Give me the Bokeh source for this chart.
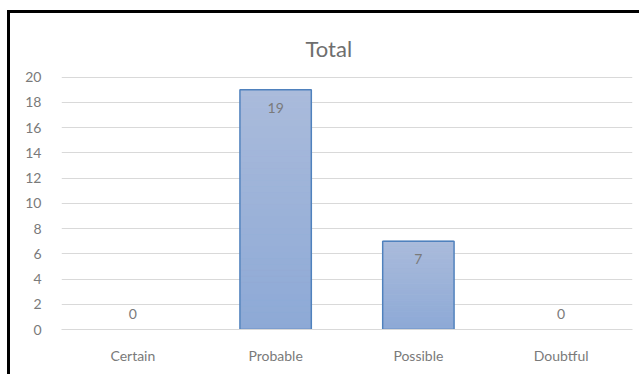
from bokeh.plotting import figure
from bokeh.models import ColumnDataSource, FactorRange, Range1d, FixedTicker
from bokeh.embed import file_html
from bokeh.resources import INLINE

categories = ["Certain", "Probable", "Possible", "Doubtful"]
values = [0, 19, 7, 0]
y_ticks = [0, 2, 4, 6, 8, 10, 12, 14, 16, 18, 20]
title_text = "Total"

FONT = "Lato"
GREY = "#7a7a7a"

p = figure(
    x_range=FactorRange(*categories),
    y_range=Range1d(0, 20.05),
    width=632, height=364,
    output_backend="svg", toolbar_location=None,
    min_border_left=51, min_border_right=10,
    min_border_top=63, min_border_bottom=48,
    margin=(10, 0, 0, 7),
    title=title_text,
)
p.styles = {"border-left": "3px solid black", "border-top": "3px solid black"}

p.title.align = "left"
p.title.text_font = FONT
p.title.text_font_size = "22px"
p.title.text_font_style = "normal"
p.title.text_color = "#6e6e6e"
p.title.offset = 244
p.title.standoff = 30

p.outline_line_color = None
p.background_fill_color = "white"
p.border_fill_color = "white"

# gradient bars built from stacked slices of each value
N = 40
top_rgb = (170, 187, 219)
bot_rgb = (141, 169, 214)
xs, bottoms, tops, colors = [], [], [], []
for c, v in zip(categories, values):
    if v <= 0:
        continue
    for i in range(N):
        f0 = i / N
        f1 = (i + 1) / N
        t = (f0 + f1) / 2
        r = round(bot_rgb[0] + (top_rgb[0] - bot_rgb[0]) * t)
        g = round(bot_rgb[1] + (top_rgb[1] - bot_rgb[1]) * t)
        b = round(bot_rgb[2] + (top_rgb[2] - bot_rgb[2]) * t)
        xs.append(c)
        bottoms.append(v * f0)
        tops.append(v * f1)
        colors.append("#%02x%02x%02x" % (r, g, b))

p.vbar(x=xs, bottom=bottoms, top=tops, width=0.49, fill_color=colors,
       line_color=colors, line_width=1)

src = ColumnDataSource(dict(
    x=categories, top=values,
    label=[str(v) for v in values],
    yoff=[18 if v > 0 else -16 for v in values],
    lc=[("#4f81bd" if v > 0 else None) for v in values],
))
p.vbar(x="x", top="top", width=0.5, source=src, fill_alpha=0,
       line_color="lc", line_width=1.5)

p.text(x="x", y="top", text="label", y_offset="yoff", source=src,
       text_align="center", text_baseline="middle",
       text_font={"value": FONT}, text_font_size="14px", text_color=GREY)

p.xgrid.grid_line_color = None
p.ygrid.grid_line_color = "#d9d9d9"
p.ygrid.grid_line_width = 1

p.yaxis.ticker = FixedTicker(ticks=y_ticks)
p.yaxis.axis_line_color = None
p.yaxis.major_tick_line_color = None
p.yaxis.minor_tick_line_color = None
p.yaxis.major_label_text_font = FONT
p.yaxis.major_label_text_font_size = "14px"
p.yaxis.major_label_text_color = GREY
p.yaxis.major_label_standoff = 14

p.xaxis.axis_line_color = "#d9d9d9"
p.xaxis.major_tick_line_color = None
p.xaxis.minor_tick_line_color = None
p.xaxis.major_label_text_font = FONT
p.xaxis.major_label_text_font_size = "14px"
p.xaxis.major_label_text_color = GREY
p.xaxis.major_label_standoff = 11

open("out.html", "w").write(file_html(p, INLINE))
